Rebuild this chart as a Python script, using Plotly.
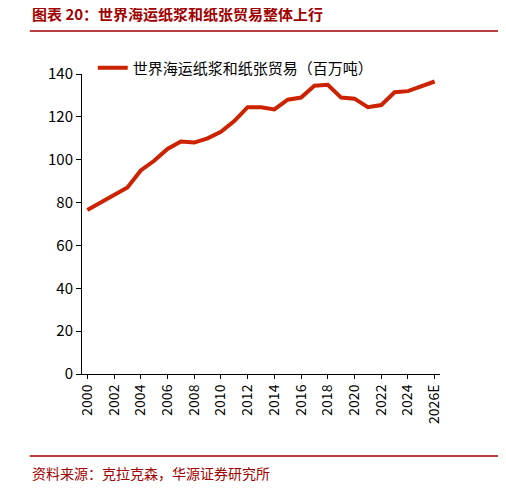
import plotly.graph_objects as go

years = [str(y) for y in range(2000, 2026)] + ["2026E"]
trade = [76.5, 80, 83, 87, 95, 99.5, 105, 108.5, 108, 110, 113, 118, 124.5, 124.5, 123.5,
         128, 129, 134.5, 135, 129, 128.5, 124.5, 125.5, 131.5, 132, 134.5, 136.5]
xticks = [str(y) for y in range(2000, 2026, 2)] + ["2026E"]
series_name = "世界海运纸浆和纸张贸易（百万吨）"

fig = go.Figure()
fig.add_trace(go.Scatter(x=years, y=trade, mode="lines", name=series_name,
                         line=dict(color="#CC2200", width=4)))
font = "Noto Sans CJK SC, sans-serif"
fig.update_layout(
    width=506, height=488, margin=dict(l=74, r=74, t=66, b=122),
    paper_bgcolor="white", plot_bgcolor="white",
    font=dict(family=font, size=14, color="black"),
    showlegend=True,
    legend=dict(x=0.03, y=1.075, xanchor="left", yanchor="top", bgcolor="rgba(0,0,0,0)",
                font=dict(size=15)),
    xaxis=dict(type="category", tickvals=xticks, tickangle=-90, showline=True,
               linecolor="black", ticks="outside", tickcolor="black", ticklen=4,
               showgrid=False, range=[-0.4, 26.4], tickfont=dict(size=14)),
    yaxis=dict(range=[0, 140], dtick=20, showline=True, linecolor="black",
               ticks="outside", tickcolor="black", ticklen=5, showgrid=False,
               zeroline=False, tickfont=dict(size=15)),
    shapes=[
        dict(type="line", xref="paper", yref="paper", x0=-0.146, x1=1.25, y0=1.143, y1=1.143,
             line=dict(color="#A00000", width=1.5)),
        dict(type="line", xref="paper", yref="paper", x0=-0.146, x1=1.25, y0=-0.273, y1=-0.273,
             line=dict(color="#A00000", width=1.5)),
    ],
    annotations=[
        dict(text="<b>图表 20：世界海运纸浆和纸张贸易整体上行</b>", xref="paper", yref="paper",
             x=-0.146, y=1.16, xanchor="left", yanchor="bottom", showarrow=False,
             font=dict(size=15, color="#A00000")),
        dict(text="资料来源：克拉克森，华源证券研究所", xref="paper", yref="paper",
             x=-0.146, y=-0.29, xanchor="left", yanchor="top", showarrow=False,
             font=dict(size=14, color="#A00000")),
    ],
)
fig.write_html("out.html")
